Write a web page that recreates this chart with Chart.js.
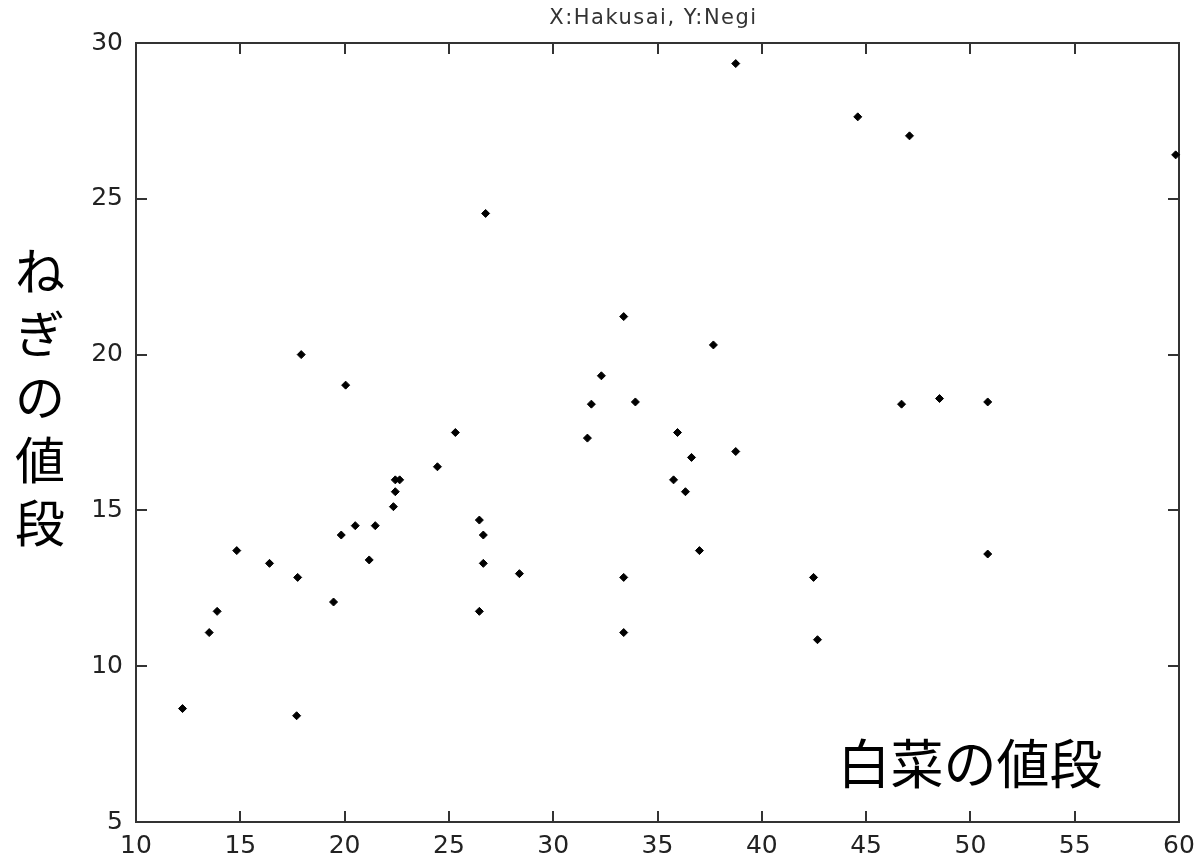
<!DOCTYPE html>
<html>
<head>
<meta charset="utf-8">
<script src="https://cdn.jsdelivr.net/npm/chart.js@4"></script>
<style>
html,body{margin:0;padding:0;background:#fff;}
#wrap{width:1196px;height:858px;}
</style>
</head>
<body>
<div id="wrap"><canvas id="c" width="1196" height="858"></canvas></div>
<script>
// 白菜 (Hakusai) prices — x values
const hakusai = [12.23,13.51,13.89,14.83,16.40,17.75,17.70,17.92,19.47,19.84,
                 20.05,20.51,21.18,21.47,22.34,22.43,22.43,22.64,24.45,25.31,
                 26.76,26.46,26.65,26.65,26.46,28.38,31.64,31.83,32.31,33.38,
                 33.38,33.38,33.94,35.77,35.96,36.34,36.63,37.01,37.68,38.75,
                 38.75,42.48,42.67,44.60,46.70,47.08,48.52,50.83,50.83,59.84];
// ねぎ (Negi) prices — y values
const negi    = [8.64,11.08,11.76,13.71,13.30,12.85,8.41,20.00,12.06,14.21,
                 19.02,14.51,13.41,14.51,15.12,15.60,15.98,15.98,16.40,17.50,
                 24.53,14.69,14.21,13.30,11.76,12.97,17.32,18.41,19.32,21.22,
                 12.85,11.08,18.48,15.98,17.50,15.60,16.70,13.71,20.31,16.89,
                 29.34,12.85,10.85,27.63,18.41,27.02,18.59,18.48,13.60,26.41];
const xTicks = [10,15,20,25,30,35,40,45,50,55,60];
const yTicks = [5,10,15,20,25,30];
const titleText = 'X:Hakusai, Y:Negi';
const xLabel = '白菜の値段';
const yLabel = 'ねぎの値段';

const points = hakusai.map((x,i)=>({x:x, y:negi[i]}));

const axisColor = '#333';
const TICK_LEN = 11;
function gridOpts(){
  return {drawOnChartArea:false, drawTicks:false, color:axisColor, lineWidth:2};
}
function borderOpts(){
  return {display:true, color:axisColor, width:2};
}
const tickFont = {family:'"DejaVu Sans", sans-serif', size:25, weight:'normal'};

function fitH(h){ return s=>{ s.height = h; s.paddingLeft = 0; s.paddingRight = 0; s.paddingTop = 0; s.paddingBottom = 0; }; }
function fitW(w){ return s=>{ s.width = w; s.paddingLeft = 0; s.paddingRight = 0; s.paddingTop = 0; s.paddingBottom = 0; }; }
function tickValues(id){ return id.charAt(0) === 'x' ? xTicks : yTicks; }

// inward tick marks on all four sides, placed by each scale
const inwardTicks = {
  id:'inwardTicks',
  afterDraw(chart){
    const ctx = chart.ctx, a = chart.chartArea;
    ctx.save();
    ctx.fillStyle = axisColor;
    ['x','x2','y','y2'].forEach(id=>{
      const s = chart.scales[id];
      if (!s) return;
      const pos = s.options.position;
      tickValues(id).forEach(v=>{
        const p = Math.round(s.getPixelForValue(v));
        if (pos === 'bottom') ctx.fillRect(p - 1, a.bottom - TICK_LEN, 2, TICK_LEN);
        else if (pos === 'top') ctx.fillRect(p - 1, a.top, 2, TICK_LEN);
        else if (pos === 'left') ctx.fillRect(a.left, p - 1, TICK_LEN, 2);
        else ctx.fillRect(a.right - TICK_LEN, p - 1, TICK_LEN, 2);
      });
    });
    ctx.restore();
  }
};

const textPlugin = {
  id:'texts',
  afterDraw(chart){
    const ctx = chart.ctx, a = chart.chartArea;
    ctx.save();
    ctx.textAlign = 'center';
    ctx.textBaseline = 'middle';
    ctx.fillStyle = '#333';
    ctx.font = '21px "DejaVu Sans", sans-serif';
    try { ctx.letterSpacing = '1.5px'; } catch(e) {}
    ctx.fillText(titleText, (a.left + a.right)/2 - 4, 19);
    try { ctx.letterSpacing = '0px'; } catch(e) {}
    ctx.fillStyle = '#000';
    ctx.font = '50px "Noto Sans CJK JP", sans-serif';
    Array.from(yLabel).forEach((ch,i)=>{
      ctx.fillText(ch, 40, 271 + i*63);
    });
    ctx.font = '53px "Noto Sans CJK JP", sans-serif';
    ctx.fillText(xLabel, 970, 764);
    ctx.restore();
  }
};

new Chart(document.getElementById('c'), {
  type:'scatter',
  data:{
    datasets:[{
      label:'Hakusai vs Negi',
      data:points,
      pointStyle:'rectRot',
      radius:4,
      hoverRadius:4,
      borderWidth:1,
      backgroundColor:'#000',
      borderColor:'#000',
      clip:false
    }]
  },
  options:{
    responsive:false,
    animation:false,
    devicePixelRatio:1,
    layout:{padding:0},
    plugins:{legend:{display:false}, title:{display:false}, tooltip:{enabled:false}},
    scales:{
      x:{
        type:'linear', position:'bottom', min:10, max:60,
        afterBuildTicks:s=>{ s.ticks = xTicks.map(v=>({value:v})); },
        grid:gridOpts(), border:borderOpts(),
        ticks:{padding:9, font:tickFont, color:'#222', maxRotation:0, autoSkip:false},
        afterFit:fitH(36)
      },
      x2:{
        type:'linear', position:'top', min:10, max:60,
        afterBuildTicks:s=>{ s.ticks = xTicks.map(v=>({value:v})); },
        grid:gridOpts(), border:borderOpts(),
        ticks:{display:false},
        afterFit:fitH(43)
      },
      y:{
        type:'linear', position:'left', min:5, max:30,
        afterBuildTicks:s=>{ s.ticks = yTicks.map(v=>({value:v})); },
        grid:gridOpts(), border:borderOpts(),
        ticks:{padding:13, font:tickFont, color:'#222', autoSkip:false},
        afterFit:fitW(136)
      },
      y2:{
        type:'linear', position:'right', min:5, max:30,
        afterBuildTicks:s=>{ s.ticks = yTicks.map(v=>({value:v})); },
        grid:gridOpts(), border:borderOpts(),
        ticks:{display:false},
        afterFit:fitW(17)
      }
    }
  },
  plugins:[inwardTicks, textPlugin]
});
</script>
</body>
</html>
